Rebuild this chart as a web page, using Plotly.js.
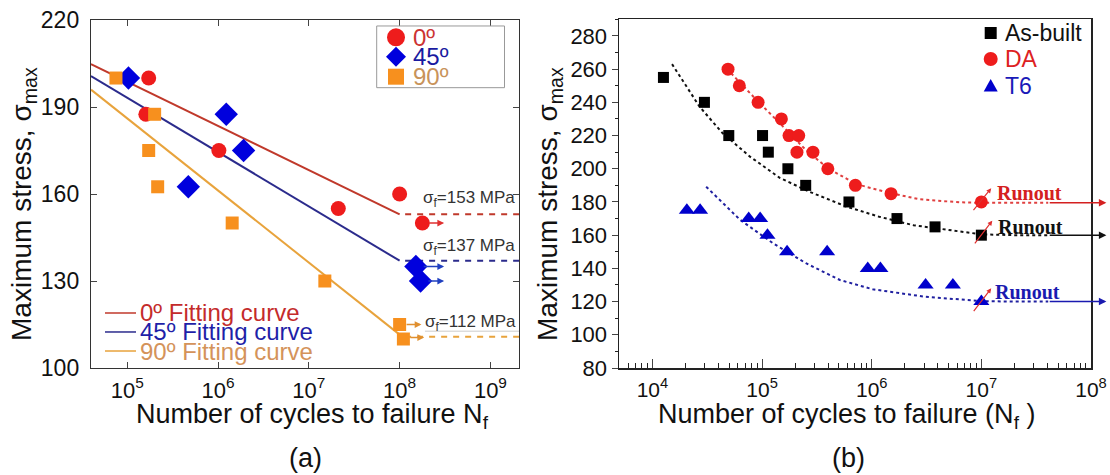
<!DOCTYPE html>
<html><head><meta charset="utf-8">
<script src="https://cdn.plot.ly/plotly-3.0.1.min.js"></script>
<style>html,body{margin:0;padding:0;background:#fff}#chart{width:1110px;height:475px}</style>
</head><body><div id="chart"></div>
<script>
// ---------- Panel (a) data ----------
const a_cycles_0  = [1.72e5, 1.6e5, 1.02e6, 2.11e7, 1.0e8, 1.78e8];
const a_stress_0  = [200, 187.5, 175, 155, 160, 150];
const a_cycles_45 = [1.03e5, 1.23e6, 4.7e5, 1.91e6, 1.51e8, 1.7e8];
const a_stress_45 = [200, 187.5, 162.5, 175, 135, 130];
const a_cycles_90 = [7.5e4, 2.0e5, 1.72e5, 2.16e5, 1.43e6, 1.5e7, 1.0e8, 1.1e8];
const a_stress_90 = [200, 187.5, 175, 162.5, 150, 130, 115, 110];
const fit_cycles = [3.98e4, 1.0e8];
const fit_0  = [204.8, 153];
const fit_45 = [200.7, 137];
const fit_90 = [196, 111.5];
const limit_cycles = [1.15e8, 2.07e9];
const limit_levels = [153, 137, 110.8];
const limit_labels = ['σ<sub>f</sub>=153 MPa', 'σ<sub>f</sub>=137 MPa', 'σ<sub>f</sub>=112 MPa'];
const limit_label_y = [158.3, 141.6, 115.5];
const a_xticks = [1e5, 1e6, 1e7, 1e8, 1e9];
const a_xticktext = ['10<sup>5</sup>', '10<sup>6</sup>', '10<sup>7</sup>', '10<sup>8</sup>', '10<sup>9</sup>'];
const a_yticks = [100, 130, 160, 190, 220];
const a_legend = ['0º', '45º', '90º'];
const a_fit_legend = ['0º Fitting curve', '45º Fitting curve', '90º Fitting curve'];

// ---------- Panel (b) data ----------
const b_cycles_asbuilt = [1.26e4, 2.98e4, 4.97e4, 1.01e5, 1.14e5, 1.72e5, 2.5e5, 6.2e5, 1.7e6, 3.78e6, 1e7];
const b_stress_asbuilt = [255, 240, 220, 220, 210, 200, 190, 180, 170, 165, 160];
const b_cycles_da = [4.89e4, 6.2e4, 9.2e4, 1.5e5, 1.76e5, 2.16e5, 2.08e5, 2.91e5, 3.98e5, 7.1e5, 1.5e6, 1e7];
const b_stress_da = [260, 250, 240, 230, 220, 220, 210, 210, 200, 190, 185, 180];
const b_cycles_t6 = [2.06e4, 2.72e4, 7.55e4, 9.6e4, 1.12e5, 1.69e5, 3.92e5, 9.2e5, 1.2e6, 3.1e6, 5.5e6, 1e7];
const b_stress_t6 = [175, 175, 170, 170, 160, 150, 150, 140, 140, 130, 130, 120];
const fitb_cycles_asbuilt = [1.51e4, 2.69e4, 4.37e4, 7.76e4, 1.45e5, 2.69e5, 5.89e5, 1.17e6, 2.4e6, 6.31e6, 1e7, 2e7, 4.07e7];
const fitb_stress_asbuilt = [263, 237.4, 221.4, 207.3, 194.5, 186.2, 177.2, 171.1, 166, 162.1, 160.5, 160, 160];
const fitb_cycles_da = [4.79e4, 8.91e4, 1.45e5, 2.51e5, 3.98e5, 7.24e5, 1.51e6, 2.75e6, 6.31e6, 1e7, 2e7, 4.07e7];
const fitb_stress_da = [260.1, 241.4, 227.4, 211.3, 200.3, 190.7, 185.2, 181.6, 179.8, 179.5, 179.5, 179.5];
const fitb_cycles_t6 = [3.09e4, 6.31e4, 1.26e5, 2.51e5, 5.13e5, 1.02e6, 3.09e6, 1e7, 2e7, 4.07e7];
const fitb_stress_t6 = [189.2, 169.2, 155.1, 143.1, 133, 127.4, 122.9, 120.3, 120, 120];
const runout_levels = [179.5, 160, 120];
const runout_label_y = [185.6, 165.1, 126];
const b_xticks = [1e4, 1e5, 1e6, 1e7, 1e8];
const b_xticktext = ['10<sup>4</sup>', '10<sup>5</sup>', '10<sup>6</sup>', '10<sup>7</sup>', '10<sup>8</sup>'];
const b_legend = ['As-built', 'DA', 'T6'];

// ---------- styles ----------
const FONT = 'Liberation Sans, Arial, sans-serif';
const RED = '#ee1c1c', BLUE = '#0000dd', ORANGE = '#f7901e';
const L = Math.log10;

const traces = [];
// fitting lines (a)
[[fit_0, '#c0392b'], [fit_45, '#2b2b8c'], [fit_90, '#e8a33c']].forEach(([y, c]) => {
  traces.push({x: fit_cycles, y: y, xaxis: 'x', yaxis: 'y', mode: 'lines', line: {color: c, width: 2}});
});
// dashed limit lines (a)
['#c0392b', '#2b2b8c', '#e8a33c'].forEach((c, i) => {
  traces.push({x: limit_cycles, y: [limit_levels[i], limit_levels[i]], xaxis: 'x', yaxis: 'y', mode: 'lines',
    line: {color: c, width: 2, dash: '6px,6px'}});
});
traces.push({x: [1.9e8, 2.07e9], y: [112.7, 112.7], xaxis: 'x', yaxis: 'y', mode: 'lines', line: {color: '#cccccc', width: 1}});
// points (a)
traces.push({x: a_cycles_0, y: a_stress_0, xaxis: 'x', yaxis: 'y', mode: 'markers', marker: {symbol: 'circle', size: 15, color: RED}, cliponaxis: false});
traces.push({x: a_cycles_45, y: a_stress_45, xaxis: 'x', yaxis: 'y', mode: 'markers', marker: {symbol: 'diamond', size: 18, color: BLUE}, cliponaxis: false});
traces.push({x: a_cycles_90, y: a_stress_90, xaxis: 'x', yaxis: 'y', mode: 'markers', marker: {symbol: 'square', size: 13, color: ORANGE}, cliponaxis: false});

// fits (b)
[[fitb_cycles_da, fitb_stress_da, '#e04040'], [fitb_cycles_asbuilt, fitb_stress_asbuilt, '#111111'], [fitb_cycles_t6, fitb_stress_t6, '#2020a0']].forEach(([x, y, c]) => {
  traces.push({x: x, y: y, xaxis: 'x2', yaxis: 'y2', mode: 'lines', line: {color: c, width: 2, dash: 'dot'}});
});
traces.push({x: b_cycles_asbuilt, y: b_stress_asbuilt, xaxis: 'x2', yaxis: 'y2', mode: 'markers', marker: {symbol: 'square', size: 11, color: '#000000'}});
traces.push({x: b_cycles_da, y: b_stress_da, xaxis: 'x2', yaxis: 'y2', mode: 'markers', marker: {symbol: 'circle', size: 13, color: RED}});
traces.push({x: b_cycles_t6, y: b_stress_t6, xaxis: 'x2', yaxis: 'y2', mode: 'markers', marker: {symbol: 'triangle-up', size: 14, color: '#0000cc'}});

const annotations = [];
const shapes = [];
// vertical line at 1e8 (a)
shapes.push({type: 'line', xref: 'x', yref: 'y domain', x0: 8, x1: 8, y0: 0, y1: 1, line: {color: '#333', width: 1}});
// legend box (a)
shapes.push({type: 'rect', xref: 'paper', yref: 'paper', x0: 0.2857, x1: 0.4135, y0: 0.8032, y1: 0.980, fillcolor: '#ffffff', line: {color: '#999', width: 1}});

// sigma_f labels (a)
limit_labels.forEach((t, i) => {
  annotations.push({xref: 'x', yref: 'y', x: i === 2 ? 8.254 : 8.231, y: limit_label_y[i], text: t, showarrow: false,
    xanchor: 'left', yanchor: 'middle', font: {family: FONT, size: 17, color: '#333'}});
});
// arrows
function arr(xref, yref, x0, y0, x1, y1, color, w, size) {
  annotations.push({xref: xref, yref: yref, axref: xref, ayref: yref, x: x1, y: y1, ax: x0, ay: y0, text: '',
    showarrow: true, arrowhead: 2, arrowsize: size || 0.9, arrowwidth: w || 1.5, arrowcolor: color});
}
arr('x', 'y', L(a_cycles_0[5]) + 0.06, a_stress_0[5], 8.49, a_stress_0[5], '#e03030');
arr('x', 'y', L(a_cycles_45[4]) + 0.07, a_stress_45[4], 8.49, a_stress_45[4], '#2040c0');
arr('x', 'y', L(a_cycles_45[5]) + 0.07, a_stress_45[5], 8.49, a_stress_45[5], '#2040c0');
arr('x', 'y', L(a_cycles_90[6]) + 0.06, a_stress_90[6], 8.24, a_stress_90[6], '#e09030');
arr('x', 'y', L(a_cycles_90[7]) + 0.06, 110.5, 8.27, 110.5, '#e09030');

function note(x, y, text, font, extra) {
  annotations.push(Object.assign({xref: 'paper', yref: 'paper', x: x, y: y, text: text, showarrow: false,
    xanchor: 'center', yanchor: 'middle', font: font}, extra || {}));
}
function markerShape(kind, color, size, xa, ya) {
  const h = size / 2;
  const base = {xref: 'paper', yref: 'paper', xsizemode: 'pixel', ysizemode: 'pixel', xanchor: xa, yanchor: ya,
    fillcolor: color, line: {width: 0}};
  if (kind === 'circle') return Object.assign(base, {type: 'circle', x0: -h, x1: h, y0: -h, y1: h});
  if (kind === 'square') return Object.assign(base, {type: 'rect', x0: -h, x1: h, y0: -h, y1: h});
  if (kind === 'diamond') return Object.assign(base, {type: 'path', path: `M0,${h} L${h},0 L0,${-h} L${-h},0 Z`});
  return Object.assign(base, {type: 'path', path: `M${-h},${-h * 0.8} L${h},${-h * 0.8} L0,${h} Z`});
}
// legend (a) top
const symA = [['circle', RED, 18], ['diamond', BLUE, 20], ['square', ORANGE, 16]];
const legAy = [0.9476, 0.8920, 0.8347];
const legAcol = ['#cc3333', '#1a1aa0', '#c8935a'];
a_legend.forEach((t, i) => {
  shapes.push(markerShape(symA[i][0], symA[i][1], symA[i][2], 0.305, legAy[i]));
  note(0.320, legAy[i], t, {family: FONT, size: 24, color: legAcol[i]}, {xanchor: 'left'});
});
// legend (a) bottom
const legBy = [0.1576, 0.1032, 0.0487];
const fitLineCol = ['#c0392b', '#2b2b8c', '#e8a33c'];
const fitTextCol = ['#c42b2b', '#1f1fa8', '#d4935a'];
a_fit_legend.forEach((t, i) => {
  shapes.push({type: 'line', xref: 'paper', yref: 'paper', x0: 0.014, x1: 0.045, y0: legBy[i], y1: legBy[i], line: {color: fitLineCol[i], width: 1.5}});
  note(0.047, legBy[i], t, {family: FONT, size: 24, color: fitTextCol[i]}, {xanchor: 'left'});
});

// runout (b)
const runCol = ['#d42020', '#111111', '#1a1ab0'];
const runLabX = [7.127, 7.136, 7.105];
const diag = [[6.917, 174.2, 7.09, 188.3], [6.93, 154.1, 7.10, 168.7], [6.92, 113.3, 7.09, 128]];
runout_levels.forEach((lv, i) => {
  arr('x2', 'y2', 7.61, lv, 8.14, lv, runCol[i], 1.5, 1);
  arr('x2', 'y2', diag[i][0], diag[i][1], diag[i][2], diag[i][3], '#e03030', 1.2, 0.8);
  annotations.push({xref: 'x2', yref: 'y2', x: runLabX[i], y: runout_label_y[i], text: '<b>Runout</b>', showarrow: false,
    xanchor: 'left', yanchor: 'middle', font: {family: 'Liberation Serif, Times New Roman, serif', size: 20, color: runCol[i]}});
});
// legend (b)
const symB = [['square', '#000000', 12], ['circle', RED, 14], ['triangle', '#0000cc', 14]];
const legCy = [0.9599, 0.8854, 0.808];
const legCcol = ['#111111', '#dd2222', '#1a1ab8'];
b_legend.forEach((t, i) => {
  shapes.push(markerShape(symB[i][0], symB[i][1], symB[i][2], 0.8997, legCy[i]));
  note(0.9115, legCy[i], t, {family: FONT, size: 23, color: legCcol[i]}, {xanchor: 'left'});
});

// titles
const YT = {family: FONT, size: 28, color: '#111'};
const XT = {family: FONT, size: 27, color: '#111'};
note(-0.067, 0.47, 'Maximum stress, σ<sub>max</sub>', YT, {textangle: -90});
note(0.459, 0.47, 'Maximum stress, σ<sub>max</sub>', YT, {textangle: -90});
note(0.221, -0.138, 'Number of cycles to failure N<sub>f</sub>', XT);
note(0.755, -0.138, 'Number of cycles to failure (N<sub>f</sub> )', XT);
note(0.214, -0.258, '(a)', {family: FONT, size: 27, color: '#111'});
note(0.757, -0.258, '(b)', {family: FONT, size: 27, color: '#111'});

const TICKF = {family: FONT, size: 23, color: '#111'};
const layout = {
  width: 1110, height: 475,
  margin: {l: 91, r: 19, t: 19, b: 107},
  paper_bgcolor: '#fff', plot_bgcolor: 'rgba(0,0,0,0)',
  showlegend: false,
  font: {family: FONT},
  xaxis: {domain: [0, 0.428], type: 'log', range: [4.60, 9.315], tickvals: a_xticks, ticktext: a_xticktext,
    ticks: 'inside', ticklen: 6, mirror: 'ticks', showline: true, linecolor: '#333', linewidth: 1.2, showgrid: false, zeroline: false,
    tickfont: {family: FONT, size: 22, color: '#111'}, ticklabelstandoff: 2, anchor: 'y'},
  yaxis: {domain: [0, 0.997], range: [100, 220], tickvals: a_yticks, ticks: 'inside', ticklen: 6, mirror: 'ticks', showline: true,
    linecolor: '#333', linewidth: 1.2, showgrid: false, zeroline: false, tickfont: TICKF, ticklabelstandoff: 6, anchor: 'x'},
  xaxis2: {domain: [0.528, 1.0], type: 'log', range: [3.695, 8.0], tickvals: b_xticks, ticktext: b_xticktext,
    ticks: 'inside', ticklen: 9, mirror: true, showline: true, linecolor: '#222', linewidth: 1.5, showgrid: false, zeroline: false,
    minor: {ticks: 'inside', ticklen: 5, dtick: 'D1', tickcolor: '#222', showgrid: false},
    tickfont: {family: FONT, size: 21, color: '#111'}, ticklabelstandoff: 2, anchor: 'y2'},
  yaxis2: {domain: [0, 1.0], range: [80, 290.2], dtick: 20, tick0: 80, ticks: 'outside', ticklen: 6, mirror: true, showline: true,
    linecolor: '#222', linewidth: 1.5, showgrid: false, zeroline: false,
    minor: {ticks: 'outside', ticklen: 3, dtick: 10, tickcolor: '#222', showgrid: false},
    tickfont: {family: FONT, size: 22, color: '#111'}, anchor: 'x2'},
  shapes: shapes,
  annotations: annotations
};
Plotly.newPlot('chart', traces, layout, {staticPlot: true, displayModeBar: false});
</script></body></html>
